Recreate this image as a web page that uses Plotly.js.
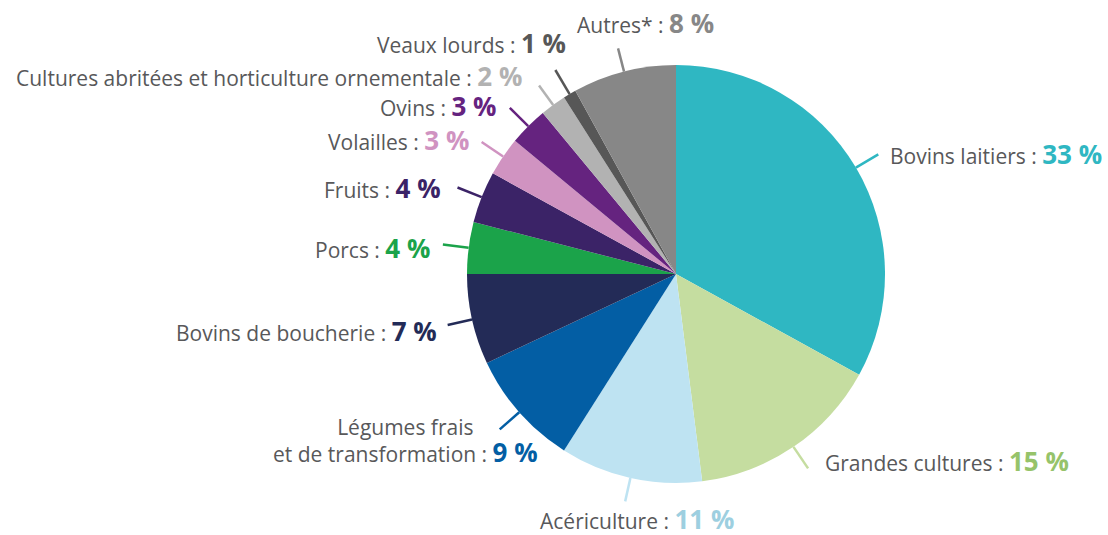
<!DOCTYPE html>
<html>
<head>
<meta charset="utf-8">
<script src="https://cdn.plot.ly/plotly-3.0.1.min.js"></script>
<style>
  html, body { margin: 0; padding: 0; background: #fff; }
  #chart { width: 1108px; height: 535px; }
</style>
</head>
<body>
<div id="chart"></div>
<script>
// shares of farms by main production (%)
const categories = [
  "Bovins laitiers", "Grandes cultures", "Acériculture",
  "Légumes frais<br>et de transformation", "Bovins de boucherie", "Porcs",
  "Fruits", "Volailles", "Ovins",
  "Cultures abritées et horticulture ornementale", "Veaux lourds", "Autres*"
];
const shares = [33, 15, 11, 9, 7, 4, 4, 3, 3, 2, 1, 8];

const sliceColors = [
  "#2fb7c2", "#c5dda0", "#bee3f2", "#035ea4", "#232b57", "#1ba34a",
  "#3b2367", "#d093c1", "#65237f", "#b2b2b2", "#575757", "#878787"
];
const pctColors = [
  "#2fb7c2", "#96c36a", "#9dcfe0", "#035ea4", "#232b57", "#1ba34a",
  "#3b2367", "#d093c1", "#65237f", "#b2b2b2", "#575757", "#878787"
];

// label placement: leader length, text offset from leader end, anchor
const labelLayout = [
  { len: 26, dx: 11, dy: 0, anchor: "left" },
  { len: 26, dx: 16, dy: -7, anchor: "left" },
  { len: 24, dx: 12, dy: 18, anchor: "center" },
  { len: 26, dx: -94, dy: 12, anchor: "center" },
  { len: 25, dx: -10, dy: 6, anchor: "right" },
  { len: 26, dx: -12, dy: 3, anchor: "right" },
  { len: 26, dx: -16, dy: 1, anchor: "right" },
  { len: 26, dx: -12, dy: -2, anchor: "right" },
  { len: 26, dx: -12, dy: -2, anchor: "right" },
  { len: 24, dx: -16, dy: -9, anchor: "right" },
  { len: 28, dx: 12, dy: -27, anchor: "right" },
  { len: 24, dx: 27, dy: -25, anchor: "center" }
];

const W = 1108, H = 535;
const cx = 676, cy = 274, R = 209;
const px = (x) => x / W;
const py = (y) => 1 - y / H;

const total = shares.reduce((a, b) => a + b, 0);
let cum = 0;
const shapes = [];
const annotations = [];

shares.forEach((v, i) => {
  const mid = ((cum + v / 2) / total) * 2 * Math.PI;
  cum += v;
  const sx = Math.sin(mid), sy = -Math.cos(mid);
  const x0 = cx + R * sx, y0 = cy + R * sy;
  const L = labelLayout[i];
  const x1 = x0 + L.len * sx, y1 = y0 + L.len * sy;

  shapes.push({
    type: "line", xref: "paper", yref: "paper",
    x0: px(x0), y0: py(y0), x1: px(x1), y1: py(y1),
    line: { color: sliceColors[i], width: 2.5 }
  });

  annotations.push({
    xref: "paper", yref: "paper",
    x: px(x1 + L.dx), y: py(y1 + L.dy),
    xanchor: L.anchor, yanchor: "middle", align: "center",
    showarrow: false,
    borderpad: 0,
    text: `${categories[i]} : <span style="font-weight:bold;font-size:26px;color:${pctColors[i]}">${v} %</span>`,
    font: { family: "Open Sans", size: 21, color: "#58585a" }
  });
});

const trace = {
  type: "pie",
  labels: categories,
  values: shares,
  sort: false,
  direction: "clockwise",
  rotation: 0,
  textinfo: "none",
  hoverinfo: "label+percent",
  marker: { colors: sliceColors, line: { width: 0 } },
  domain: { x: [px(cx - R), px(cx + R)], y: [py(cy + R), py(cy - R)] },
  showlegend: false
};

const layout = {
  width: W, height: H,
  margin: { l: 0, r: 0, t: 0, b: 0 },
  paper_bgcolor: "#ffffff",
  font: { family: "Open Sans" },
  shapes, annotations
};

Plotly.newPlot("chart", [trace], layout, { displayModeBar: false });
</script>
</body>
</html>
